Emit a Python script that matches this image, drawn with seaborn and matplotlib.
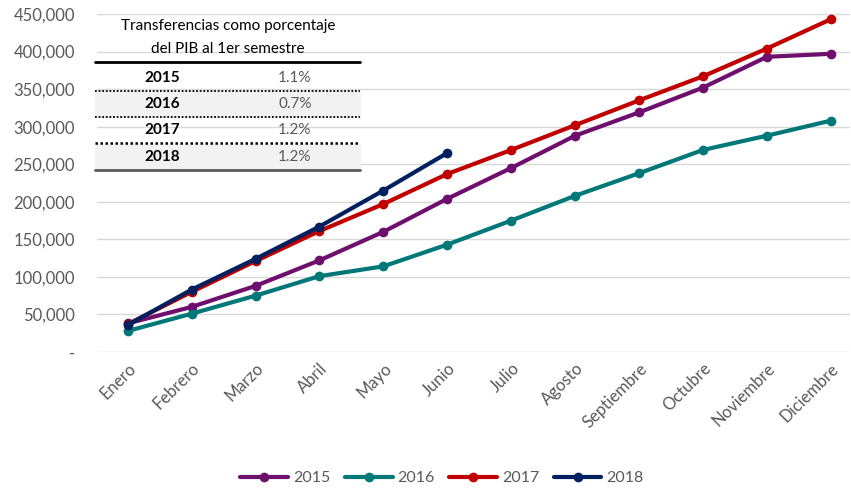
import pandas as pd
import matplotlib.pyplot as plt
import seaborn as sns

# data
months = ['Enero', 'Febrero', 'Marzo', 'Abril', 'Mayo', 'Junio', 'Julio',
          'Agosto', 'Septiembre', 'Octubre', 'Noviembre', 'Diciembre']
v2015 = [38000, 60000, 88000, 122000, 160000, 204000, 245000, 288000, 319000, 352000, 393000, 397000]
v2016 = [28000, 51000, 75000, 101000, 114000, 143000, 175000, 208000, 238000, 269000, 288000, 308000]
v2017 = [37000, 80000, 121000, 161000, 197000, 237000, 269000, 302000, 335000, 367000, 404000, 443000]
v2018 = [36000, 83000, 124000, 167000, 215000, 265000]
years = ['2015', '2016', '2017', '2018']
colors = ['#6E0F6E', '#007878', '#C00000', '#002060']

table_years = ['2015', '2016', '2017', '2018']
table_pct = ['1.1%', '0.7%', '1.2%', '1.2%']

rows = []
for yr, vals in zip(years, [v2015, v2016, v2017, v2018]):
    for i, v in enumerate(vals):
        rows.append({'mes': i, 'valor': v, 'year': yr})
df = pd.DataFrame(rows)

sns.set_theme(style='white')
plt.rcParams['font.family'] = ['Lato', 'DejaVu Sans']
gray = '#595959'

W, H = 851, 491
fig = plt.figure(figsize=(W / 100, H / 100), dpi=100)
ax = fig.add_axes([97 / W, 1 - 352 / H, (850 - 97) / W, (352 - 14) / H])
ax.set_facecolor('none')

sns.lineplot(data=df, x='mes', y='valor', hue='year', palette=colors,
             style='year', markers=['o'] * 4, dashes=False, linewidth=3,
             markersize=7, markeredgewidth=0, ax=ax, legend=True)

ax.set_ylim(0, 450000)
ax.set_xlim(-0.48, 11.3)
ax.set_yticks(range(0, 450001, 50000))
ax.set_yticklabels(['-'] + [f'{v:,}' for v in range(50000, 450001, 50000)])
ax.set_xticks(range(len(months)))
ax.set_xticklabels(months, rotation=45, ha='right', rotation_mode='anchor')
ax.tick_params(axis='both', colors=gray, labelsize=12, length=0)
ax.tick_params(axis='y', pad=16)
ax.tick_params(axis='x', pad=6)
ax.grid(axis='y', color='#D9D9D9', linewidth=1)
ax.set_xlabel('')
ax.set_ylabel('')
sns.despine(ax=ax, left=True, bottom=True)

handles, labels = ax.get_legend_handles_labels()
ax.legend(handles, labels, loc='center', bbox_to_anchor=(442 / W, 1 - 478 / H),
          bbox_transform=fig.transFigure, ncol=4, frameon=False, fontsize=11.5,
          labelcolor=gray, handlelength=3, columnspacing=0.9, handletextpad=0.3)

# table in the upper left
def fx(x):
    return x / W

def fy(y):
    return 1 - y / H

x0, x1 = 95, 360
fig.text(fx(228), fy(26), 'Transferencias como porcentaje', ha='center', va='center',
         fontsize=11, color='black', zorder=3)
fig.text(fx(228), fy(49), 'del PIB al 1er semestre', ha='center', va='center',
         fontsize=11, color='black', zorder=3)
fig.add_artist(plt.Line2D([fx(x0), fx(x1)], [fy(62), fy(62)], color='black', lw=2, zorder=3))
row_y = [78, 104, 130, 157]
for i, (yr, pct) in enumerate(zip(table_years, table_pct)):
    if i % 2 == 1:
        fig.add_artist(plt.Rectangle((fx(x0), fy(row_y[i] + 13)), fx(x1) - fx(x0),
                                     26 / H, color='#F2F2F2', zorder=2))
    fig.text(fx(162), fy(row_y[i]), yr, ha='center', va='center', fontsize=11,
             fontweight='bold', color='black', zorder=3)
    fig.text(fx(295), fy(row_y[i]), pct, ha='center', va='center', fontsize=11,
             color=gray, zorder=3)
    if i < 3:
        fig.add_artist(plt.Line2D([fx(x0), fx(x1)], [fy(row_y[i] + 13)] * 2, zorder=3,
                                  color='black', lw=1.3 if i < 2 else 1.8, ls=(0, (1, 1))))
fig.add_artist(plt.Line2D([fx(x0), fx(x1)], [fy(170), fy(170)], color='#595959', lw=2, zorder=3))

fig.savefig('out.png', dpi=100)
